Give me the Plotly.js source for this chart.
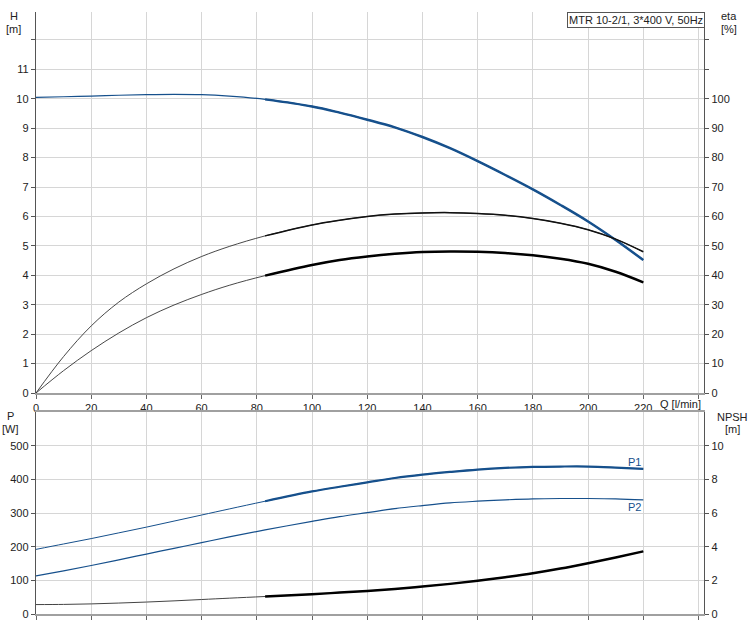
<!DOCTYPE html>
<html>
<head>
<meta charset="utf-8">
<script src="https://cdn.plot.ly/plotly-3.0.1.min.js"></script>
<style>html,body{margin:0;padding:0;background:#fff;}#chart{width:750px;height:629px;}</style>
</head>
<body>
<div id="chart"></div>
<script>
// Flow rate Q [l/min]
const Q      = [0, 10, 20, 30, 40, 50, 60, 70, 83, 100, 110, 120, 130, 140, 150, 160, 170, 180, 190, 200, 210, 220];
// Head H [m]
const H      = [10.05, 10.07, 10.09, 10.12, 10.14, 10.15, 10.14, 10.09, 9.98, 9.74, 9.53, 9.29, 9.03, 8.70, 8.32, 7.88, 7.41, 6.92, 6.39, 5.83, 5.20, 4.52];
// Efficiencies [%]
const etaUpper = [0, 12.4, 22.8, 30.9, 37.1, 42.2, 46.4, 49.8, 53.4, 57.1, 58.7, 60.0, 60.8, 61.2, 61.3, 61.0, 60.4, 59.3, 57.7, 55.5, 52.3, 48.0];
const etaLower = [0, 7.6, 14.4, 20.4, 25.6, 29.9, 33.5, 36.6, 39.9, 43.5, 45.2, 46.4, 47.3, 47.9, 48.1, 48.0, 47.6, 46.8, 45.6, 43.9, 41.2, 37.6];
// Power [W]
const P1     = [192, 208, 224, 241, 258, 276, 294, 312, 335, 364, 378, 391, 404, 414, 422, 429, 434, 437, 438, 438, 435, 431];
const P2     = [113, 128, 144, 161, 178, 195, 212, 229, 250, 275, 289, 301, 313, 322, 330, 335, 339, 342, 343, 343, 342, 339];
// NPSH [m]
const NPSH   = [0.56, 0.57, 0.60, 0.65, 0.71, 0.78, 0.86, 0.94, 1.04, 1.18, 1.27, 1.37, 1.49, 1.63, 1.79, 1.98, 2.19, 2.42, 2.70, 3.02, 3.36, 3.72];
// Start of operating range (index into Q)
const opStart = 8;
// Tick labels
const qTicks  = [0, 20, 40, 60, 80, 100, 120, 140, 160, 180, 200, 220, 240];
const qLabels = ['0','20','40','60','80','100','120','140','160','180','200','220',''];
const hTicks  = [0,1,2,3,4,5,6,7,8,9,10,11,12];
const hLabels = ['0','1','2','3','4','5','6','7','8','9','10','11',''];
const etaTicks  = [0,10,20,30,40,50,60,70,80,90,100,110,120];
const etaLabels = ['0','10','20','30','40','50','60','70','80','90','100','',''];
const pTicks  = [0,100,200,300,400,500];
const npshTicks = [0,2,4,6,8,10];
const title = 'MTR 10-2/1, 3*400 V, 50Hz';

const BLUE = '#16508c';
const sl = a => a.slice(opStart);
function tr(x, y, xa, ya, color, width) {
  return {x: x, y: y, xaxis: xa, yaxis: ya, type: 'scatter', mode: 'lines',
          line: {color: color, width: width, shape: 'spline', smoothing: 1},
          hoverinfo: 'skip', showlegend: false};
}
const data = [
  tr(Q, etaUpper, 'x', 'y2', '#333', 0.9),
  tr(sl(Q), sl(etaUpper), 'x', 'y2', '#111', 1.5),
  tr(Q, etaLower, 'x', 'y2', '#333', 0.9),
  tr(sl(Q), sl(etaLower), 'x', 'y2', '#000', 2.5),
  tr(Q, H, 'x', 'y', BLUE, 1.2),
  tr(sl(Q), sl(H), 'x', 'y', BLUE, 2.5),
  tr(Q, P1, 'x2', 'y3', BLUE, 1.0),
  tr(sl(Q), sl(P1), 'x2', 'y3', BLUE, 2.2),
  tr(Q, P2, 'x2', 'y3', BLUE, 1.2),
  tr(Q, NPSH, 'x2', 'y4', '#444', 1.0),
  tr(sl(Q), sl(NPSH), 'x2', 'y4', '#000', 2.5)
];

const FONT = {family: 'Liberation Sans, Arial, sans-serif', size: 11, color: '#222'};
const GRID = '#d6d6d6';
const W = 750, Hh = 629, ml = 36, mr = 46, mt = 12, mb = 15;
const pw = W - ml - mr, ph = Hh - mt - mb;
const px = x => (x - ml) / pw;
const py = y => (Hh - mb - y) / ph;

const layout = {
  width: W, height: Hh,
  margin: {l: ml, r: mr, t: mt, b: mb, pad: 0},
  paper_bgcolor: '#fff', plot_bgcolor: '#fff',
  font: FONT,
  showlegend: false,
  hovermode: false,
  xaxis: {domain: [0, 1], anchor: 'y', range: [0, 242], tickmode: 'array', tickvals: qTicks, ticktext: qLabels,
          showgrid: true, gridcolor: GRID, gridwidth: 1, zeroline: false,
          showline: true, linecolor: '#a0a0a0', linewidth: 2, ticks: 'outside', ticklen: 4, tickcolor: '#666', tickfont: FONT},
  yaxis: {domain: [py(393), 1], anchor: 'x', range: [0, 12.95], tickmode: 'array', tickvals: hTicks, ticktext: hLabels,
          showgrid: true, gridcolor: GRID, gridwidth: 1, zeroline: false,
          showline: true, linecolor: '#555', linewidth: 1.2, ticks: 'outside', ticklen: 4, tickcolor: '#555', tickfont: FONT},
  yaxis2: {overlaying: 'y', side: 'right', anchor: 'x', range: [0, 129.5], tickmode: 'array', tickvals: etaTicks, ticktext: etaLabels,
          showgrid: false, zeroline: false,
          showline: true, linecolor: '#555', linewidth: 1.2, ticks: 'outside', ticklen: 4, tickcolor: '#555', tickfont: FONT},
  xaxis2: {domain: [0, 1], anchor: 'y3', range: [0, 242], tickmode: 'array', tickvals: qTicks, showticklabels: false,
          showgrid: true, gridcolor: GRID, gridwidth: 1, zeroline: false, mirror: true,
          showline: true, linecolor: '#a0a0a0', linewidth: 2, ticks: 'outside', ticklen: 4, tickcolor: '#666'},
  yaxis3: {domain: [0, py(412)], anchor: 'x2', range: [0, 600], tickmode: 'array', tickvals: pTicks,
          showgrid: true, gridcolor: GRID, gridwidth: 1, zeroline: false,
          showline: true, linecolor: '#555', linewidth: 1.2, ticks: 'outside', ticklen: 4, tickcolor: '#555', tickfont: FONT},
  yaxis4: {overlaying: 'y3', side: 'right', anchor: 'x2', range: [0, 12], tickmode: 'array', tickvals: npshTicks,
          showgrid: false, zeroline: false,
          showline: true, linecolor: '#555', linewidth: 1.2, ticks: 'outside', ticklen: 4, tickcolor: '#555', tickfont: FONT},
  annotations: [
    {text: 'H', xref: 'paper', yref: 'paper', x: px(14), y: py(16.5), showarrow: false, xanchor: 'center', yanchor: 'middle', font: FONT},
    {text: '[m]', xref: 'paper', yref: 'paper', x: px(14), y: py(29), showarrow: false, xanchor: 'center', yanchor: 'middle', font: FONT},
    {text: 'eta', xref: 'paper', yref: 'paper', x: px(729), y: py(16.5), showarrow: false, xanchor: 'center', yanchor: 'middle', font: FONT},
    {text: '[%]', xref: 'paper', yref: 'paper', x: px(729), y: py(29), showarrow: false, xanchor: 'center', yanchor: 'middle', font: FONT},
    {text: 'P', xref: 'paper', yref: 'paper', x: px(10.5), y: py(416), showarrow: false, xanchor: 'center', yanchor: 'middle', font: FONT},
    {text: '[W]', xref: 'paper', yref: 'paper', x: px(10.5), y: py(429), showarrow: false, xanchor: 'center', yanchor: 'middle', font: FONT},
    {text: 'NPSH', xref: 'paper', yref: 'paper', x: px(732), y: py(417), showarrow: false, xanchor: 'center', yanchor: 'middle', font: FONT},
    {text: '[m]', xref: 'paper', yref: 'paper', x: px(732.5), y: py(429), showarrow: false, xanchor: 'center', yanchor: 'middle', font: FONT},
    {text: 'Q [l/min]', xref: 'paper', yref: 'paper', x: px(680.5), y: py(403.5), showarrow: false, xanchor: 'center', yanchor: 'middle', font: FONT},
    {text: title, xref: 'paper', yref: 'paper', x: px(705), y: py(12), showarrow: false, xanchor: 'right', yanchor: 'top',
     bgcolor: '#fff', bordercolor: '#555', borderwidth: 1, borderpad: 1, font: FONT},
    {text: 'P1', xref: 'x2', yref: 'y3', x: 217, y: 451, showarrow: false, xanchor: 'center', yanchor: 'middle',
     font: {family: FONT.family, size: 11, color: BLUE}},
    {text: 'P2', xref: 'x2', yref: 'y3', x: 217, y: 317, showarrow: false, xanchor: 'center', yanchor: 'middle',
     font: {family: FONT.family, size: 11, color: BLUE}}
  ]
};

Plotly.newPlot('chart', data, layout, {staticPlot: true, displayModeBar: false});
</script>
</body>
</html>
